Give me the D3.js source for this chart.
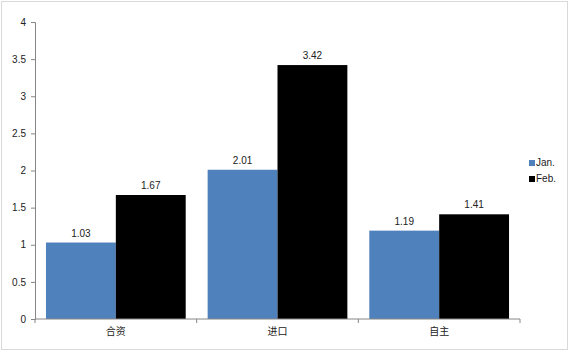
<!DOCTYPE html>
<html>
<head>
<meta charset="utf-8">
<script src="https://cdn.jsdelivr.net/npm/d3@7"></script>
<style>
  body { margin: 0; background: #fff; }
  text { font-family: "Liberation Sans", "Noto Sans CJK SC", sans-serif; fill: #222; }
</style>
</head>
<body>
<svg id="chart" width="570" height="353"></svg>
<script>
const categories = ["合资", "进口", "自主"];
const series = ["Jan.", "Feb."];
const janValues = [1.03, 2.01, 1.19];
const febValues = [1.67, 3.42, 1.41];
const yTicks = [0, 0.5, 1, 1.5, 2, 2.5, 3, 3.5, 4];
const colors = ["#4F81BD", "#000000"];

const svg = d3.select("#chart");
const plotLeft = 35, plotRight = 520, plotTop = 22, plotBottom = 319;

// outer frame
svg.append("rect")
  .attr("x", 1.5).attr("y", 1.5)
  .attr("width", 566).attr("height", 348)
  .attr("fill", "none").attr("stroke", "#d9d9d9");

const x0 = d3.scaleBand().domain(categories).range([plotLeft, plotRight]).padding(0);
const x1 = d3.scaleBand().domain(series).range([0, x0.bandwidth()])
  .paddingInner(0).paddingOuter(0.157);
const y = d3.scaleLinear().domain([0, 4]).range([plotBottom, plotTop]);

const data = categories.map((c, i) => ({ cat: c, vals: [janValues[i], febValues[i]] }));

// y axis
const yAxis = svg.append("g")
  .attr("transform", `translate(${plotLeft},0)`)
  .call(d3.axisLeft(y).tickValues(yTicks).tickSize(4).tickPadding(5).tickFormat(d => d));
yAxis.selectAll("path, line").attr("stroke", "#868686");
yAxis.selectAll("text").style("font-size", "10px");

// bars
const groups = svg.selectAll(".grp").data(data).join("g")
  .attr("class", "grp")
  .attr("transform", d => `translate(${x0(d.cat)},0)`);

groups.selectAll("rect")
  .data(d => d.vals.map((v, i) => ({ s: series[i], v, i })))
  .join("rect")
  .attr("x", d => x1(d.s))
  .attr("y", d => y(d.v))
  .attr("width", x1.bandwidth())
  .attr("height", d => y(0) - y(d.v))
  .attr("fill", d => colors[d.i]);

groups.selectAll("text.lbl")
  .data(d => d.vals.map((v, i) => ({ s: series[i], v })))
  .join("text")
  .attr("class", "lbl")
  .attr("x", d => x1(d.s) + x1.bandwidth() / 2)
  .attr("y", d => y(d.v) - 6)
  .attr("text-anchor", "middle")
  .style("font-size", "10px")
  .text(d => d.v.toFixed(2));

// x axis
const xAxis = svg.append("g")
  .attr("transform", `translate(0,${plotBottom})`)
  .call(d3.axisBottom(x0).tickSize(0).tickPadding(9));
xAxis.select("path").attr("stroke", "#868686").attr("d", `M${plotLeft},0H${plotRight}`);
xAxis.selectAll("text").style("font-size", "10px")
  .style("font-family", "'Noto Sans CJK SC', sans-serif");
xAxis.selectAll(".sep").data(categories.concat(["end"])).join("line")
  .attr("class", "sep")
  .attr("x1", (d, i) => plotLeft + i * x0.step())
  .attr("x2", (d, i) => plotLeft + i * x0.step())
  .attr("y1", 0).attr("y2", 4)
  .attr("stroke", "#868686");

// legend
const legend = svg.append("g").attr("transform", "translate(529,160)");
series.forEach((s, i) => {
  legend.append("rect")
    .attr("x", 0).attr("y", i * 16)
    .attr("width", 6).attr("height", 6)
    .attr("fill", colors[i]);
  legend.append("text")
    .attr("x", 7).attr("y", i * 16 + 6)
    .style("font-size", "10px")
    .text(s);
});
</script>
</body>
</html>
